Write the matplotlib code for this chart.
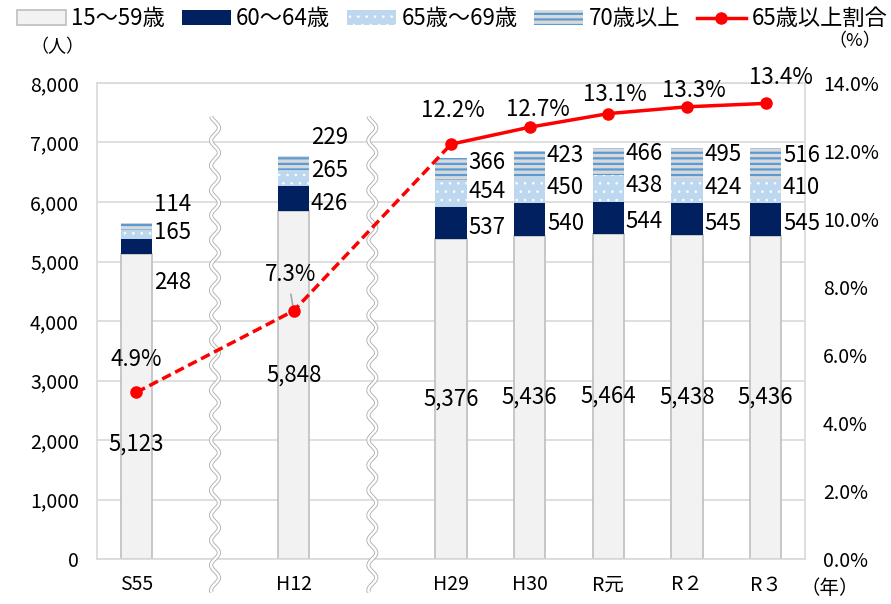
import numpy as np
import matplotlib.pyplot as plt
import matplotlib.transforms as mtransforms
from matplotlib.patches import Patch
from matplotlib.lines import Line2D

plt.rcParams['font.family'] = ['Noto Sans CJK JP', 'DejaVu Sans']
plt.rcParams['hatch.linewidth'] = 1.6

# 年次（S55・H12 の後は間隔を空けて不連続を表す）
years = ["S55", "H12", "H29", "H30", "R元", "R２", "R３"]
xpos = [0, 2, 4, 5, 6, 7, 8]

# 年齢階層別人数（人）
age_15_59 = [5123, 5848, 5376, 5436, 5464, 5438, 5436]
age_60_64 = [248, 426, 537, 540, 544, 545, 545]
age_65_69 = [165, 265, 454, 450, 438, 424, 410]
age_70_over = [114, 229, 366, 423, 466, 495, 516]

# 65歳以上割合（%）
ratio_65_over = [4.9, 7.3, 12.2, 12.7, 13.1, 13.3, 13.4]

# ラベルの重なりを避けるための縦方向のずらし量（人）
nudge_base = [-630, 160, 0, 0, 0, 0, 0]
nudge_upper = [
    (-600, 30, 360),
    (-90, 120, 430),
    (-70, 40, 120),
    (-70, 50, 140),
    (-70, 50, 140),
    (-70, 50, 140),
    (-70, 50, 140),
]
# 割合ラベルのずらし量（ポイント）
pct_offsets = [(0, 24), (-2, 26), (1, 24), (6, 13), (5, 14), (5, 12), (11, 19)]

RED = "#FF0000"
NAVY = "#002060"
GRID = "#D9D9D9"


def thin_hatch(artists, lw):
    # 点模様だけ細い線で描く（対応している版のみ）
    for p in artists:
        if hasattr(p, "set_hatch_linewidth"):
            p.set_hatch_linewidth(lw)


x = np.array(xpos, dtype=float)
a = np.array(age_15_59)
b = np.array(age_60_64)
c = np.array(age_65_69)
d = np.array(age_70_over)

fig = plt.figure(figsize=(8.91, 6.04), dpi=100)
ax = fig.add_axes([97 / 891, 45 / 604, 708 / 891, 476 / 604])

w = 0.4
ax.bar(x, a, w, color="#F2F2F2", edgecolor="#BFBFBF", linewidth=1.2, zorder=2)
ax.bar(x, b, w, bottom=a, color=NAVY, linewidth=0, zorder=2)
dots = ax.bar(x, c, w, bottom=a + b, color="#BDD7EE", edgecolor="white",
              hatch="..", linewidth=0, zorder=2)
thin_hatch(dots, 0.6)
ax.bar(x, d, w, bottom=a + b + c, color="#D9D9D9", edgecolor="#5B9BD5",
       hatch="---", linewidth=0, zorder=2)

ax.set_xlim(-0.5, 8.5)
ax.set_ylim(0, 8000)
ax.set_yticks(range(0, 8001, 1000))
ax.set_yticklabels([f"{v:,}" for v in range(0, 8001, 1000)])
ax.set_xticks(x)
ax.set_xticklabels(years)
ax.yaxis.grid(True, color=GRID, linewidth=1.2)
ax.set_axisbelow(True)
ax.tick_params(axis="y", length=0, pad=13, labelsize=14)
ax.tick_params(axis="x", length=0, pad=11, labelsize=14)
for s in ax.spines.values():
    s.set_color(GRID)
    s.set_linewidth(1.2)

# 数値ラベル
lbl_size = 16
for i in range(len(x)):
    ax.text(x[i], a[i] / 2 + nudge_base[i], f"{a[i]:,}", ha="center",
            va="center", fontsize=lbl_size, zorder=5)
    tops = [a[i] + b[i] / 2, a[i] + b[i] + c[i] / 2, a[i] + b[i] + c[i] + d[i] / 2]
    for v, yc, dy in zip((b[i], c[i], d[i]), tops, nudge_upper[i]):
        ax.text(x[i] + w / 2 + 0.02, yc + dy, f"{v}", ha="left",
                va="center", fontsize=lbl_size, zorder=5)

# 不連続を示す波線
trans = mtransforms.blended_transform_factory(ax.transData, ax.transAxes)
yy = np.linspace(-0.07, 0.93, 800)
for xb in (1, 3):
    xx = xb + 0.05 * np.sin(yy * 2 * np.pi / 0.0525)
    ax.plot(xx, yy, color="#B0B0B0", linewidth=3.0, transform=trans,
            clip_on=False, zorder=3, solid_capstyle="butt")
    ax.plot(xx, yy, color="white", linewidth=1.7, transform=trans,
            clip_on=False, zorder=3, solid_capstyle="butt")

# 65歳以上割合（右軸）
ax2 = ax.twinx()
ax2.set_ylim(0, 14)
ax2.set_yticks(range(0, 15, 2))
ax2.set_yticklabels([f"{v:.1f}%" for v in range(0, 15, 2)])
ax2.tick_params(axis="y", length=0, pad=13, labelsize=14)
for s in ax2.spines.values():
    s.set_visible(False)

r = np.array(ratio_65_over)
ax2.plot(x[:3], r[:3], color=RED, linewidth=2.5, dashes=(2.8, 1.4), zorder=4)
ax2.plot(x[2:], r[2:], color=RED, linewidth=2.5, zorder=4)
ax2.plot(x, r, "o", color=RED, markersize=8, zorder=5)

for i in range(len(x)):
    dx, dy = pct_offsets[i]
    ax2.annotate(f"{r[i]:.1f}%", (x[i], r[i]), xytext=(dx, dy),
                 textcoords="offset points", ha="center", va="center",
                 fontsize=lbl_size, zorder=6)
# H12 の引出線
ax2.annotate("", (x[1], r[1]), xytext=(-2, 12), textcoords="offset points",
             arrowprops=dict(arrowstyle="-", color="#A6A6A6", lw=1.2,
                             shrinkA=0, shrinkB=3))

# 単位
fig.text(57 / 891, 1 - 47 / 604, "（人）", ha="center", va="center", fontsize=13)
fig.text(855 / 891, 1 - 41 / 604, "（%）", ha="center", va="center", fontsize=13)
fig.text(830 / 891, 1 - 588 / 604, "（年）", ha="center", va="center", fontsize=14)

# 凡例
handles = [
    Patch(facecolor="#F2F2F2", edgecolor="#BFBFBF", linewidth=1.2),
    Patch(facecolor=NAVY, linewidth=0),
    Patch(facecolor="#BDD7EE", edgecolor="white", hatch="..", linewidth=0),
    Patch(facecolor="#D9D9D9", edgecolor="#5B9BD5", hatch="---", linewidth=0),
    Line2D([], [], color=RED, linewidth=2.5, marker="o", markersize=8),
]
labels = ["15～59歳", "60～64歳", "65歳～69歳", "70歳以上", "65歳以上割合"]
leg = fig.legend(handles, labels, loc="upper left", bbox_to_anchor=(0.004, 1.01),
                 ncol=5, frameon=False, fontsize=16, handlelength=2.2,
                 handleheight=0.7, handletextpad=0.25, columnspacing=0.75,
                 borderaxespad=0.2)
thin_hatch([leg.legend_handles[2]], 0.6)

fig.savefig("out.png", dpi=100)
